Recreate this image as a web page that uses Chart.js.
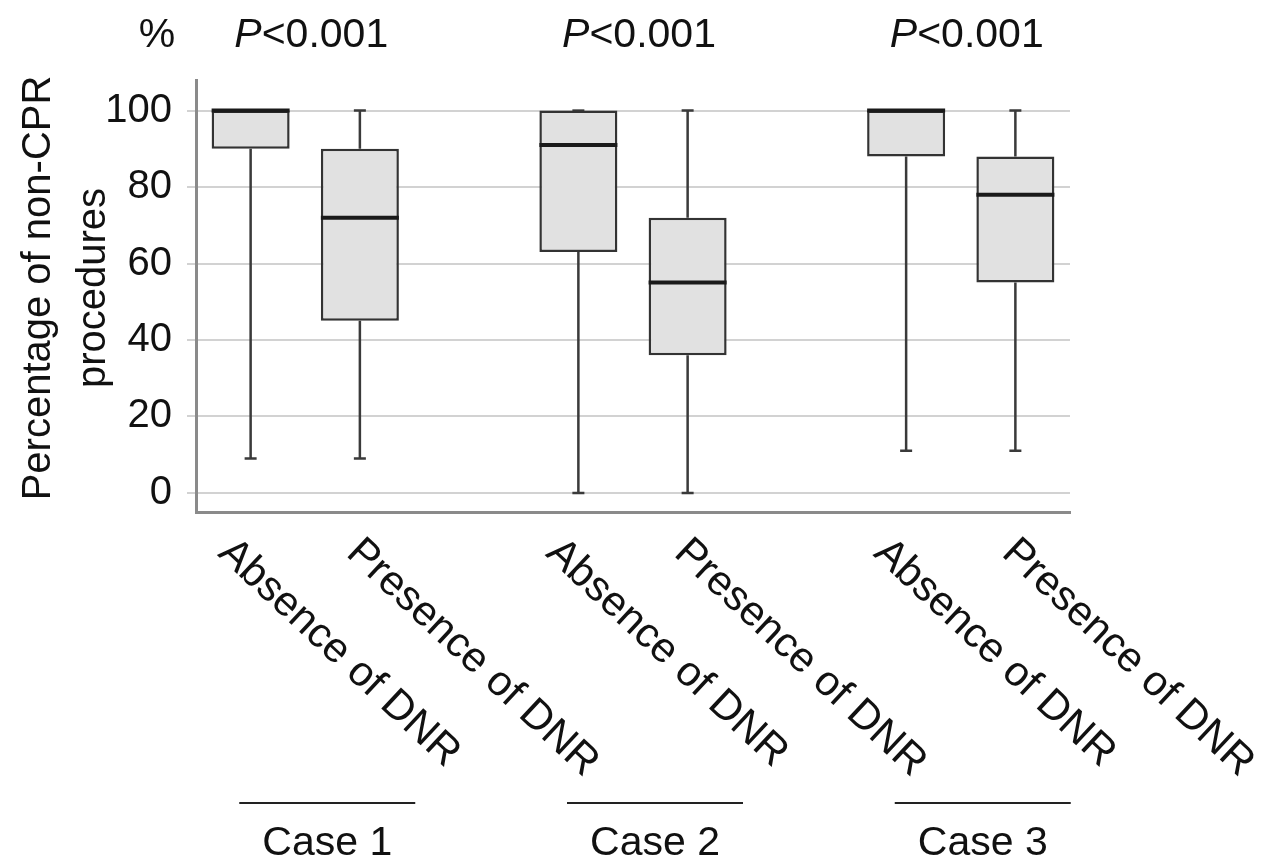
<!DOCTYPE html>
<html>
<head>
<meta charset="utf-8">
<script src="https://cdn.jsdelivr.net/npm/chart.js@4/dist/chart.umd.min.js"></script>
<style>
  html, body { margin: 0; padding: 0; background: #fff; }
  #wrap { width: 1269px; height: 863px; position: relative; }
</style>
</head>
<body>
<div id="wrap"><canvas id="boxChart"></canvas></div>
<script>
// slots with '' are empty gaps between the cases
const categories = ["Absence of DNR", "Presence of DNR", "", "Absence of DNR", "Presence of DNR", "", "Absence of DNR", "Presence of DNR"];
const minValues = [9, 9, null, 0, 0, null, 11, 11];
const q1Values = [90, 45, null, 63, 36, null, 88, 55];
const medianValues = [100, 72, null, 91, 55, null, 100, 78];
const q3Values = [100, 90, null, 100, 72, null, 100, 88];
const maxValues = [100, 100, null, 100, 100, null, 100, 100];
const yTicks = [0, 20, 40, 60, 80, 100];
const yTitle = ["Percentage of non-CPR", "procedures"];
const caseNames = ["Case 1", "Case 2", "Case 3"];
const caseSlots = [[0, 1], [3, 4], [6, 7]];
const pTexts = ["<0.001", "<0.001", "<0.001"];

const FONT = '"Liberation Sans", Arial, sans-serif';

const boxData = q1Values.map((q1, i) => (q1 === null ? null : [q1, q3Values[i]]));

const boxDecor = {
    id: "boxDecor",
    beforeDatasetsDraw(chart) {
        const ctx = chart.ctx;
        const y = chart.scales.y;
        const meta = chart.getDatasetMeta(0);
        ctx.save();
        ctx.strokeStyle = "#3a3a3a";
        ctx.lineWidth = 2.5;
        meta.data.forEach((bar, i) => {
            if (minValues[i] === null) return;
            const x = bar.x;
            const pairs = [[q1Values[i], minValues[i]], [q3Values[i], maxValues[i]]];
            pairs.forEach(([from, to]) => {
                const y1 = y.getPixelForValue(from);
                const y2 = y.getPixelForValue(to);
                ctx.beginPath();
                ctx.moveTo(x, y1);
                ctx.lineTo(x, y2);
                ctx.moveTo(x - 6, y2);
                ctx.lineTo(x + 6, y2);
                ctx.stroke();
            });
        });
        ctx.restore();
    },
    afterDatasetsDraw(chart) {
        const ctx = chart.ctx;
        const y = chart.scales.y;
        const meta = chart.getDatasetMeta(0);
        ctx.save();
        ctx.strokeStyle = "#1a1a1a";
        ctx.lineWidth = 4;
        meta.data.forEach((bar, i) => {
            if (medianValues[i] === null) return;
            const ym = y.getPixelForValue(medianValues[i]);
            const half = bar.width / 2;
            ctx.beginPath();
            ctx.moveTo(bar.x - half, ym);
            ctx.lineTo(bar.x + half, ym);
            ctx.stroke();
        });
        ctx.restore();
    },
    afterDraw(chart) {
        const ctx = chart.ctx;
        const x = chart.scales.x;
        const area = chart.chartArea;
        ctx.save();
        ctx.fillStyle = "#111";

        // y axis title, two lines
        ctx.textAlign = "center";
        ctx.textBaseline = "middle";
        ctx.font = "40px " + FONT;
        yTitle.forEach((line, k) => {
            ctx.save();
            ctx.translate(39 + k * 55, 288);
            ctx.rotate(-Math.PI / 2);
            ctx.fillText(line, 0, 0);
            ctx.restore();
        });

        // top: % and P values
        ctx.font = "41px " + FONT;
        ctx.fillText("%", 157, 36);
        caseSlots.forEach(([a, b], g) => {
            const cx = (x.getPixelForValue(a) + x.getPixelForValue(b)) / 2 + 6;
            ctx.font = "italic 41px " + FONT;
            const wP = ctx.measureText("P").width;
            ctx.font = "41px " + FONT;
            const wR = ctx.measureText(pTexts[g]).width;
            const start = cx - (wP + wR) / 2;
            ctx.textAlign = "left";
            ctx.font = "italic 41px " + FONT;
            ctx.fillText("P", start, 36);
            ctx.font = "41px " + FONT;
            ctx.fillText(pTexts[g], start + wP, 36);
        });

        // rotated category labels
        ctx.font = "42px " + FONT;
        ctx.textAlign = "left";
        ctx.textBaseline = "alphabetic";
        categories.forEach((label, i) => {
            if (!label) return;
            const px = x.getPixelForValue(i);
            const shift = i % 3 === 0 ? -34 : -15;
            ctx.save();
            ctx.translate(px + shift, area.bottom + 43);
            ctx.rotate(43 * Math.PI / 180);
            ctx.fillText(label, 0, 0);
            ctx.restore();
        });

        // case brackets
        ctx.strokeStyle = "#222";
        ctx.lineWidth = 2;
        ctx.textAlign = "center";
        ctx.textBaseline = "middle";
        ctx.font = "41px " + FONT;
        caseSlots.forEach(([a, b], g) => {
            const cx = (x.getPixelForValue(a) + x.getPixelForValue(b)) / 2 + 22;
            ctx.beginPath();
            ctx.moveTo(cx - 88, 803);
            ctx.lineTo(cx + 88, 803);
            ctx.stroke();
            ctx.fillText(caseNames[g], cx, 844);
        });
        ctx.restore();
    }
};

new Chart(document.getElementById("boxChart"), {
    type: "bar",
    data: {
        labels: categories,
        datasets: [{
            data: boxData,
            backgroundColor: "#e1e1e1",
            borderColor: "#333",
            borderWidth: 2.5,
            borderSkipped: false,
            barPercentage: 0.714,
            categoryPercentage: 1
        }]
    },
    options: {
        responsive: true,
        maintainAspectRatio: false,
        animation: false,
        layout: { padding: { left: 0, top: 80, right: 199, bottom: 351 } },
        plugins: {
            legend: { display: false },
            tooltip: { enabled: false }
        },
        scales: {
            x: {
                ticks: { display: false },
                grid: { display: false },
                border: { display: true, color: "#8a8a8a", width: 3 },
                afterFit(scale) { scale.height = 0; }
            },
            y: {
                min: -5,
                max: 108,
                afterBuildTicks(scale) { scale.ticks = yTicks.map(v => ({ value: v })); },
                afterFit(scale) { scale.width = 196; },
                ticks: {
                    color: "#111",
                    padding: 15,
                    font: { family: FONT, size: 40 }
                },
                grid: {
                    color: "#d2d2d2",
                    lineWidth: 2,
                    tickLength: 9,
                    drawTicks: true
                },
                border: { display: true, color: "#8a8a8a", width: 3 },
                title: { display: false }
            }
        }
    },
    plugins: [boxDecor]
});
</script>
</body>
</html>
